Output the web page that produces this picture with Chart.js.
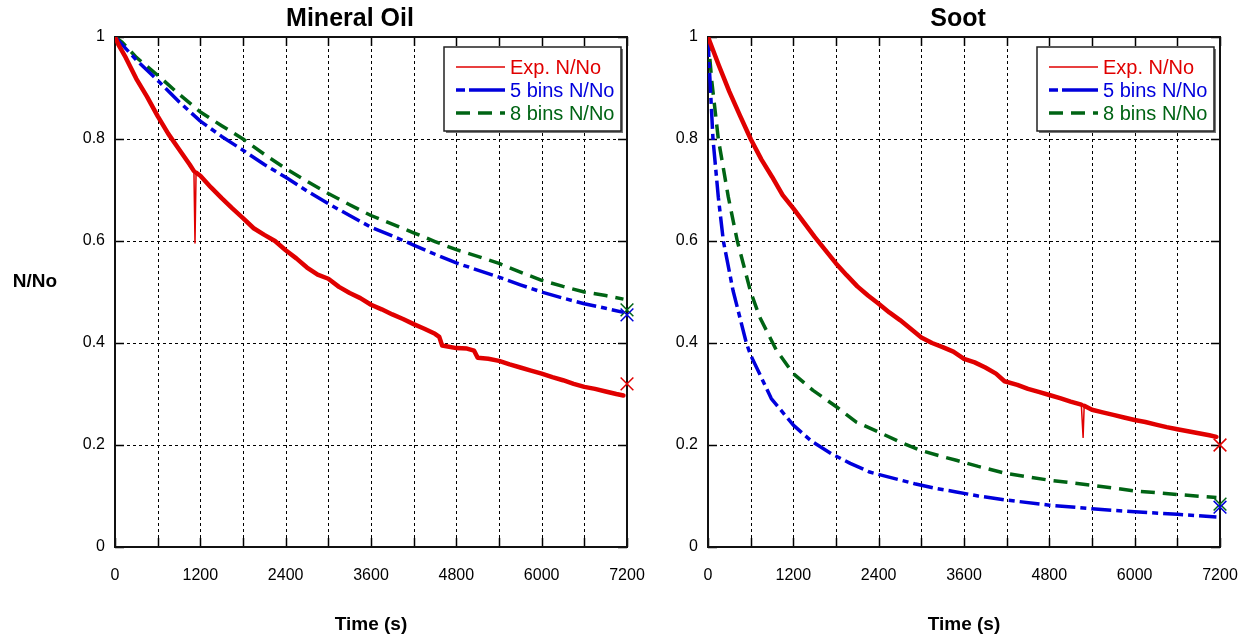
<!DOCTYPE html>
<html>
<head>
<meta charset="utf-8">
<script src="https://cdn.jsdelivr.net/npm/chart.js@4.4.1/dist/chart.umd.min.js"></script>
<style>
  html, body { margin: 0; padding: 0; background: #fff; }
  #wrap { position: relative; width: 1245px; height: 636px; overflow: hidden; }
  #oil { position: absolute; left: 0; top: 0; }
  #soot { position: absolute; left: 672px; top: 0; }
</style>
</head>
<body>
<div id="wrap">
  <canvas id="oil" width="667" height="636"></canvas>
  <canvas id="soot" width="588" height="636"></canvas>
</div>
<script>
// ---- data ----
const xTicksMajor = [0, 1200, 2400, 3600, 4800, 6000, 7200];

// Mineral oil
const oilExpT = [0, 60, 150, 300, 450, 600, 750, 900, 1050, 1110, 1125, 1140, 1200, 1350, 1500, 1650, 1800, 1950, 2100, 2250, 2400, 2550, 2700, 2850, 3000, 3150, 3300, 3450, 3600, 3750, 3900, 4050, 4200, 4350, 4500, 4560, 4600, 4800, 4950, 5050, 5100, 5250, 5400, 5550, 5700, 5850, 6000, 6150, 6300, 6450, 6600, 6750, 6900, 7050, 7150];
const oilExp  = [1.000, 0.982, 0.960, 0.918, 0.883, 0.845, 0.810, 0.780, 0.750, 0.737, 0.596, 0.734, 0.728, 0.705, 0.684, 0.664, 0.645, 0.625, 0.612, 0.600, 0.582, 0.566, 0.548, 0.534, 0.526, 0.510, 0.498, 0.488, 0.475, 0.466, 0.456, 0.447, 0.437, 0.428, 0.418, 0.412, 0.395, 0.390, 0.389, 0.385, 0.371, 0.369, 0.365, 0.358, 0.352, 0.346, 0.340, 0.333, 0.327, 0.320, 0.314, 0.310, 0.305, 0.300, 0.297];
const oilBinsT = [0, 100, 300, 600, 900, 1200, 1500, 1800, 2100, 2400, 2700, 3000, 3300, 3600, 3900, 4200, 4500, 4800, 5100, 5400, 5700, 6000, 6300, 6600, 6900, 7150];
const oil5 = [1.0, 0.985, 0.955, 0.915, 0.873, 0.835, 0.805, 0.778, 0.75, 0.725, 0.698, 0.673, 0.65, 0.627, 0.61, 0.592, 0.574, 0.557, 0.543, 0.529, 0.514, 0.50, 0.488, 0.477, 0.468, 0.46];
const oil8 = [1.0, 0.99, 0.96, 0.925, 0.888, 0.853, 0.826, 0.80, 0.77, 0.742, 0.717, 0.693, 0.671, 0.65, 0.633, 0.616, 0.599, 0.583, 0.57, 0.556, 0.539, 0.523, 0.511, 0.50, 0.493, 0.486];
const oilEnd = [0.32, 0.455, 0.465]; // exp, 5 bins, 8 bins at 7200

// Soot
const sootExpT = [0, 150, 300, 450, 600, 750, 900, 1050, 1200, 1350, 1500, 1650, 1800, 1950, 2100, 2250, 2400, 2550, 2700, 2850, 3000, 3150, 3300, 3450, 3600, 3750, 3900, 4050, 4170, 4350, 4500, 4650, 4800, 4950, 5100, 5250, 5275, 5290, 5400, 5550, 5700, 5850, 6000, 6150, 6300, 6450, 6600, 6750, 6900, 7050, 7150];
const sootExp  = [1.000, 0.945, 0.893, 0.846, 0.800, 0.760, 0.726, 0.690, 0.664, 0.636, 0.608, 0.582, 0.556, 0.533, 0.511, 0.493, 0.477, 0.460, 0.445, 0.428, 0.411, 0.400, 0.392, 0.383, 0.369, 0.362, 0.352, 0.340, 0.325, 0.318, 0.310, 0.304, 0.298, 0.292, 0.285, 0.279, 0.215, 0.277, 0.269, 0.264, 0.259, 0.254, 0.249, 0.245, 0.240, 0.235, 0.231, 0.227, 0.223, 0.219, 0.216];
const soot5T = [0, 15, 30, 70, 145, 216, 352, 539, 600, 656, 890, 1200, 1450, 1734, 2000, 2273, 2600, 2906, 3200, 3492, 3800, 4200, 4800, 5400, 6000, 6600, 7150];
const soot5  = [1.0, 0.95, 0.91, 0.80, 0.686, 0.60, 0.503, 0.40, 0.376, 0.36, 0.291, 0.239, 0.208, 0.183, 0.164, 0.147, 0.135, 0.124, 0.115, 0.108, 0.100, 0.092, 0.082, 0.075, 0.069, 0.064, 0.059];
const soot8T = [0, 52, 145, 286, 412, 600, 730, 961, 1200, 1477, 1805, 2086, 2405, 2700, 2977, 3250, 3492, 3800, 4200, 4800, 5400, 6000, 6600, 7150];
const soot8  = [1.0, 0.915, 0.80, 0.686, 0.60, 0.50, 0.45, 0.386, 0.34, 0.307, 0.275, 0.245, 0.225, 0.206, 0.19, 0.179, 0.17, 0.158, 0.144, 0.131, 0.121, 0.11, 0.103, 0.097];
const sootEnd = [0.20, 0.078, 0.084];

const legendLabels = ['Exp. N/No', '5 bins N/No', '8 bins N/No'];

const RED = '#e00000', BLUE = '#0000dc', GREEN = '#006414';
const FONT = "'Liberation Sans', Arial, sans-serif";
const DASH5 = [20, 5, 6, 5], DASH8 = [14, 8];

const pts = (xs, ys) => xs.map((x, i) => ({x: x, y: ys[i]}));

// the one-sample glitches in the measured curves are drawn thin
const thinSpike = c => (c.p1.parsed.x - c.p0.parsed.x) < 30 ? 1.5 : undefined;

function makeDatasets(expT, exp, t5, v5, t8, v8, ends) {
  const colors = [RED, BLUE, GREEN];
  const ds = [
    {data: pts(expT, exp), borderColor: RED, borderWidth: 4.5, borderCapStyle: 'round', segment: {borderWidth: thinSpike}},
    {data: pts(t5, v5), borderColor: BLUE, borderWidth: 3.5, borderDash: DASH5},
    {data: pts(t8, v8), borderColor: GREEN, borderWidth: 3.5, borderDash: DASH8}
  ].map(d => Object.assign(d, {pointRadius: 0, tension: 0, fill: false, borderJoinStyle: 'round'}));
  ends.forEach((v, i) => ds.push({
    data: [{x: 7200, y: v}], showLine: false, pointStyle: 'crossRot',
    pointRadius: 9, borderColor: colors[i], borderWidth: 1.5, clip: false
  }));
  return ds;
}

// dashed grid, inward ticks and frame
const framePlugin = {
  id: 'frame',
  beforeDatasetsDraw(chart) {
    const {ctx, chartArea: a, scales: {x, y}} = chart;
    ctx.save();
    ctx.strokeStyle = '#000';
    ctx.lineWidth = 1;
    ctx.setLineDash([3, 3]);
    ctx.beginPath();
    x.ticks.forEach(t => {
      const p = Math.round(x.getPixelForValue(t.value)) + 0.5;
      if (p > a.left + 2 && p < a.right - 2) { ctx.moveTo(p, a.top); ctx.lineTo(p, a.bottom); }
    });
    y.ticks.forEach(t => {
      const p = Math.round(y.getPixelForValue(t.value)) + 0.5;
      if (p > a.top + 2 && p < a.bottom - 2) { ctx.moveTo(a.left, p); ctx.lineTo(a.right, p); }
    });
    ctx.stroke();
    ctx.setLineDash([]);
    ctx.lineWidth = 1.5;
    ctx.beginPath();
    const L = 9;
    x.ticks.forEach(t => {
      const p = Math.round(x.getPixelForValue(t.value)) + 0.5;
      ctx.moveTo(p, a.bottom); ctx.lineTo(p, a.bottom - L);
      ctx.moveTo(p, a.top); ctx.lineTo(p, a.top + L);
    });
    y.ticks.forEach(t => {
      const p = Math.round(y.getPixelForValue(t.value)) + 0.5;
      ctx.moveTo(a.left, p); ctx.lineTo(a.left + L, p);
      ctx.moveTo(a.right, p); ctx.lineTo(a.right - L, p);
    });
    ctx.stroke();
    ctx.lineWidth = 2;
    ctx.strokeStyle = '#111';
    ctx.strokeRect(a.left, a.top, a.right - a.left, a.bottom - a.top);
    ctx.restore();
  }
};

// legend box inside the plot, text coloured like the series
const boxLegend = {
  id: 'boxLegend',
  afterDatasetsDraw(chart) {
    const {ctx, chartArea: a} = chart;
    const bx = a.right - 183, by = a.top + 10, bw = 177, bh = 84;
    ctx.save();
    ctx.fillStyle = '#777';
    ctx.fillRect(bx + 2, by + 2, bw, bh);
    ctx.fillStyle = '#fff';
    ctx.fillRect(bx, by, bw, bh);
    ctx.strokeStyle = '#222';
    ctx.lineWidth = 1.5;
    ctx.strokeRect(bx, by, bw, bh);
    ctx.font = '20px ' + FONT;
    ctx.textBaseline = 'middle';
    chart.data.datasets.slice(0, 3).forEach((d, i) => {
      const ry = by + 20 + i * 23;
      ctx.beginPath();
      ctx.strokeStyle = d.borderColor;
      ctx.lineWidth = i === 0 ? 1.5 : 3.5;
      ctx.setLineDash(i === 0 ? [] : (i === 1 ? [9, 4, 36, 0] : [14, 8]));
      ctx.moveTo(bx + 12, ry);
      ctx.lineTo(bx + 61, ry);
      ctx.stroke();
      ctx.setLineDash([]);
      ctx.fillStyle = d.borderColor;
      ctx.fillText(legendLabels[i], bx + 66, ry + 1);
    });
    ctx.restore();
  }
};

// plot title (and the horizontal y-axis label on the left plot)
function textPlugin(title, titleX, sideLabel) {
  return {
    id: 'texts',
    afterDraw(chart) {
      const {ctx} = chart;
      ctx.save();
      ctx.fillStyle = '#000';
      ctx.textAlign = 'center';
      ctx.textBaseline = 'middle';
      ctx.font = 'bold 25px ' + FONT;
      ctx.fillText(title, titleX, 19);
      if (sideLabel) {
        ctx.font = 'bold 19px ' + FONT;
        ctx.fillText(sideLabel, 35, 282);
      }
      ctx.restore();
    }
  };
}

function makeOptions(yWidth) {
  return {
    responsive: false,
    animation: false,
    layout: {padding: {left: 0, right: 40, top: 37, bottom: 0}},
    plugins: {
      legend: {display: false},
      tooltip: {enabled: false},
      title: {display: false}
    },
    scales: {
      x: {
        type: 'linear', min: 0, max: 7200,
        grid: {display: false, drawTicks: false},
        border: {display: false},
        ticks: {
          stepSize: 600, autoSkip: false, maxRotation: 0, padding: 19,
          color: '#000', font: {family: FONT, size: 16},
          callback: v => xTicksMajor.includes(v) ? String(v) : ''
        },
        title: {
          display: true, text: 'Time (s)', color: '#000',
          font: {family: FONT, size: 19, weight: 'bold'},
          padding: {top: 0, bottom: 0}
        },
        afterFit: s => { s.height = 89; }
      },
      y: {
        min: 0, max: 1,
        grid: {display: false, drawTicks: false},
        border: {display: false},
        ticks: {
          stepSize: 0.2, padding: 10,
          color: '#000', font: {family: FONT, size: 16},
          callback: v => String(+v.toFixed(1))
        },
        afterFit: s => { s.width = yWidth; }
      }
    }
  };
}

new Chart(document.getElementById('oil'), {
  type: 'line',
  data: {datasets: makeDatasets(oilExpT, oilExp, oilBinsT, oil5, oilBinsT, oil8, oilEnd)},
  options: makeOptions(115),
  plugins: [framePlugin, boxLegend, textPlugin('Mineral Oil', 350, 'N/No')]
});

new Chart(document.getElementById('soot'), {
  type: 'line',
  data: {datasets: makeDatasets(sootExpT, sootExp, soot5T, soot5, soot8T, soot8, sootEnd)},
  options: makeOptions(36),
  plugins: [framePlugin, boxLegend, textPlugin('Soot', 958 - 672, null)]
});
</script>
</body>
</html>
